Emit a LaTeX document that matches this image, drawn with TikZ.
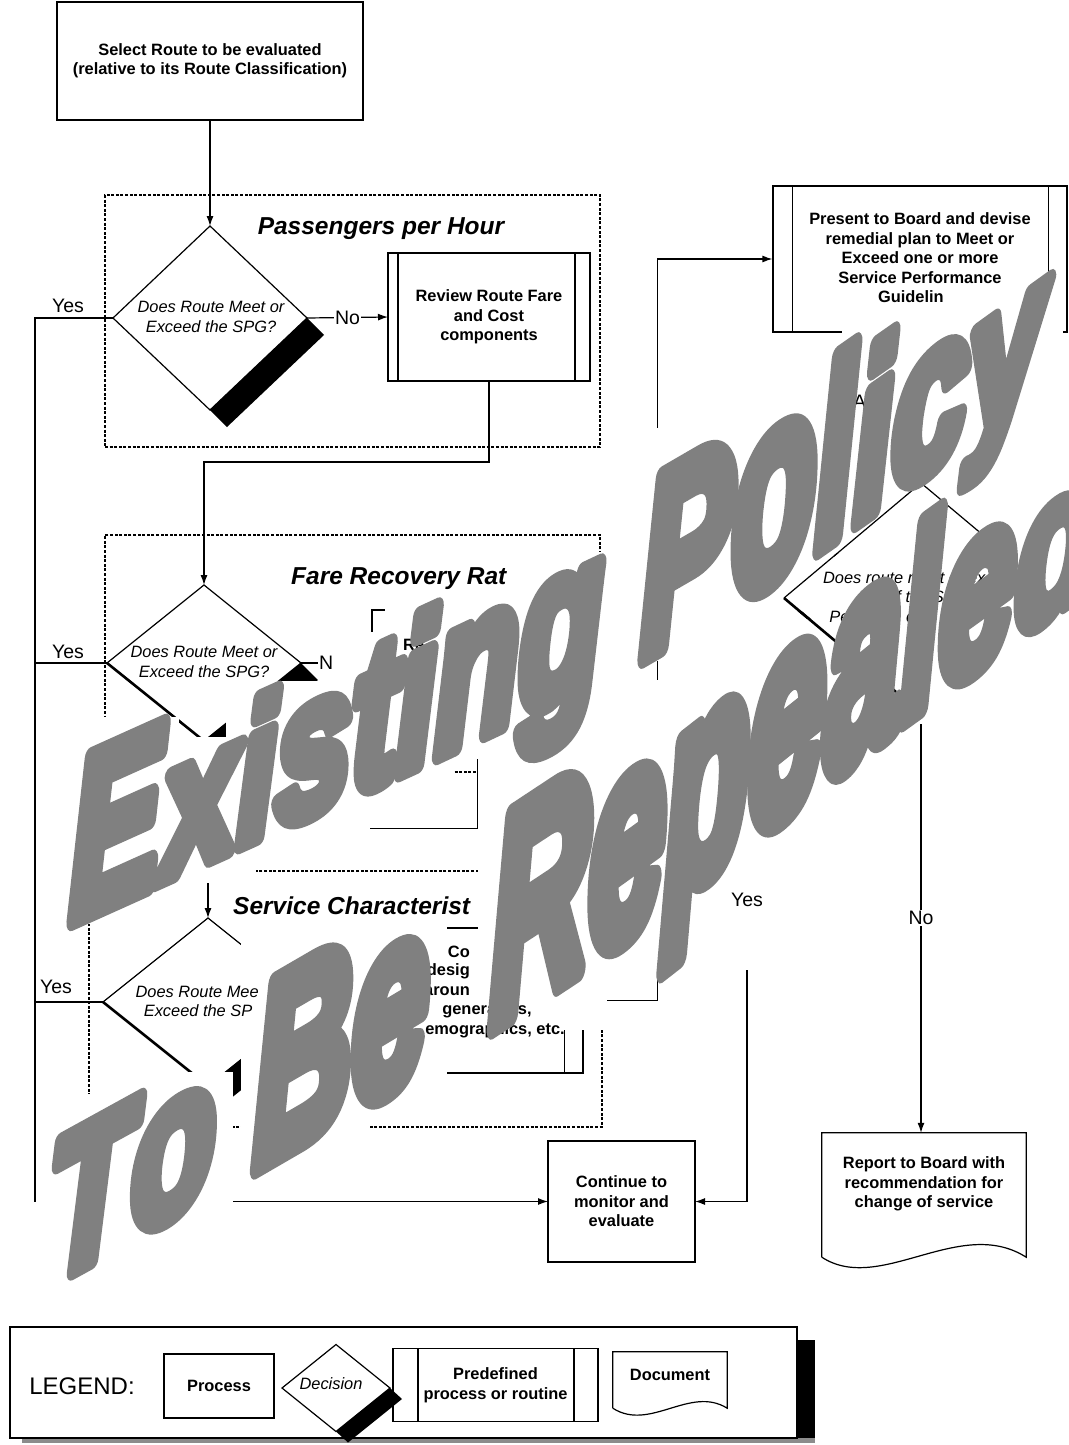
\documentclass[tikz,border=0pt]{standalone}
\usepackage{fontspec}
\setmainfont{Liberation Sans}
\usetikzlibrary{shapes.geometric,arrows.meta,calc}
\pgfdeclarelayer{wmpatch}
\pgfdeclarelayer{keep}
\pgfdeclarelayer{wmtext}
\pgfsetlayers{main,wmpatch,keep,wmtext}
\definecolor{wmgray}{HTML}{808080}
\newcommand\wmbold[1]{\special{pdf:code 2 Tr 0.502 0.502 0.502 RG 0.502 0.502 0.502 rg 12 w 1 j}#1\special{pdf:code 0 Tr}}
% name, at, char, yscale, yslant
\newcommand\wml[5]{%
  \begin{pgfonlayer}{wmtext}\node[wm,yslant=#5,yscale=#4] (#1) at (#2) {\wmbold{#3}};\end{pgfonlayer}%
  \begin{pgfonlayer}{wmpatch}\fill[white] ($(#1.south west)+(-12,2)$) rectangle ($(#1.north east)+(18,-8)$);\end{pgfonlayer}}
\newcommand\wmgap[4]{\begin{pgfonlayer}{wmtext}\node[wm,yslant=#3] (#1) at (#2) {\hspace*{#4em}};\end{pgfonlayer}}
\newcommand\keep[1]{\begin{pgfonlayer}{keep}#1\end{pgfonlayer}}
\begin{document}
\begin{tikzpicture}[x=1pt,y=-1pt,
  ln/.style={line width=1.2pt},
  arr/.style={line width=1.2pt,-{Latex[length=10pt,width=7pt]}},
  proc/.style={draw,line width=1.2pt,inner sep=0pt,outer sep=0pt,align=center,font=\bfseries\fontsize{16.4}{19.5}\selectfont},
  txt/.style={inner sep=0pt,align=center,font=\bfseries\fontsize{16.4}{19.5}\selectfont},
  itx/.style={inner sep=0pt,align=center,font=\itshape\fontsize{16.4}{19.2}\selectfont},
  dia/.style={draw,shape=diamond,line width=1.2pt,inner sep=0pt,outer sep=0pt},
  lbl/.style={inner sep=1pt,font=\fontsize{19.5}{22}\selectfont},
  ttl/.style={inner sep=0pt,font=\bfseries\itshape\fontsize{24.5}{28}\selectfont},
  dbox/.style={draw,line width=1.4pt,dash pattern=on 3pt off 1.6pt,inner sep=0pt},
  wm/.style={anchor=base west,inner sep=0pt,outer sep=0pt,text=wmgray,
     font=\bfseries\itshape\fontsize{137}{137}\selectfont,transform shape}]
\useasboundingbox (0,0) rectangle (1068,1445);
\fill[white] (0,0) rectangle (1068,1445);

% ---------- top process
\node[proc,minimum width=306,minimum height=118] (st) at (210,61) {Select Route to be evaluated\\(relative to its Route Classification)};

% ---------- group 1
\node[dbox,minimum width=495,minimum height=252] (g1) at (352.5,321) {};
\node[ttl] (t1) at (381,229) {Passengers per Hour};
\node[dia,minimum width=194,minimum height=184] (d1) at (210,318) {};
\fill (d1.east) -- ($(d1.east)+(17,17)$) -- ($(d1.south)+(17,17)$) -- (d1.south) -- cycle;
\node[itx] (d1t) at (211,317) {Does Route Meet or\\Exceed the SPG?};
\node[proc,minimum width=202,minimum height=128] (rv) at (489,317) {Review Route Fare\\and Cost\\components};
\draw[ln] ($(rv.north west)+(10,0)$) -- ($(rv.south west)+(10,0)$);
\draw[ln] ($(rv.north east)+(-15,0)$) -- ($(rv.south east)+(-15,0)$);
\node[lbl] (y1) at (68,306) {Yes};

% ---------- group 2
\node[dbox,minimum width=495,minimum height=237] (g2) at (352.5,653.5) {};
\keep{\node[ttl,anchor=west] (t2) at (291,579) {Fare Recovery Rat};}
\node[dia,minimum width=194,minimum height=156] (d2) at (204,663) {};
\fill (d2.east) -- ($(d2.east)+(17,17)$) -- ($(d2.south)+(17,17)$) -- (d2.south) -- cycle;
\draw[line width=2.6pt] (d2.west) -- (d2.south);
\keep{\node[itx] (d2t) at (204,662) {Does Route Meet or\\Exceed the SPG?};}
\keep{\node[lbl,anchor=west] (n2) at (318,663) {N};}
\node[draw,line width=1.2pt,inner sep=0pt,minimum width=211,minimum height=108] (p2) at (477.5,664) {};
\draw[ln] ($(p2.north west)+(17,0)$) -- ($(p2.south west)+(17,0)$);
\draw[ln] ($(p2.north east)+(-17,0)$) -- ($(p2.south east)+(-17,0)$);
\keep{\node[txt,anchor=west] (p2a) at (403,645) {Re};
\node[txt,anchor=west] (p2b) at (488,645) {rk};
\node[txt,anchor=west] (p2c) at (403,664) {tra};
\node[txt,anchor=west] (p2d) at (496,664) {a};
\node[txt,anchor=west] (p2e) at (495,684) {te};}
\node[lbl] (y2) at (68,652) {Yes};

% ---------- group 3
\node[dbox,minimum width=513,minimum height=256] (g3) at (345.5,999) {};
\keep{\node[ttl,anchor=west] (t3) at (233,906) {Service Characterist};}
\node[dia,minimum width=210,minimum height=168] (d3) at (208,1002) {};
\fill (d3.east) -- ($(d3.east)+(17,17)$) -- ($(d3.south)+(17,17)$) -- (d3.south) -- cycle;
\draw[line width=2.6pt] (d3.west) -- (d3.south);
\keep{\node[itx] (d3t) at (209,1001.5) {Does Route Mee\phantom{t or}\\Exceed the SP\phantom{G?}};}
\keep{\node[lbl,anchor=west] (n3) at (334,1002) {N};}
\node[draw,line width=1.2pt,inner sep=0pt,minimum width=200,minimum height=145] (p3) at (483,1000.5) {};
\draw[ln] ($(p3.north west)+(18,0)$) -- ($(p3.south west)+(18,0)$);
\draw[ln] ($(p3.north east)+(-19,0)$) -- ($(p3.south east)+(-19,0)$);
\keep{\node[txt,anchor=east] (p3a) at (470,952) {Co};
\node[txt,anchor=east] (p3b) at (470,971.5) {redesig};
\node[txt,anchor=east] (p3c) at (470,991) {aroun};
\node[txt] (p3d) at (487,1010.5) {generators,};
\node[txt] (p3e) at (490,1030) {\phantom{d}emographics, etc.};}
\keep{\node[lbl] (y3) at (56,987) {Yes};}

% ---------- right column
\node[draw,line width=1.2pt,inner sep=0pt,minimum width=294,minimum height=146] (pr) at (920,259) {};
\draw[ln] ($(pr.north west)+(20,0)$) -- ($(pr.south west)+(20,0)$);
\draw[ln] ($(pr.north east)+(-19,0)$) -- ($(pr.south east)+(-19,0)$);
\keep{\node[txt] (prt) at (920,258) {Present to Board and devise\\remedial plan to Meet or\\Exceed one or more\\Service Performance\\Guidelin\phantom{es}};}
\keep{\node[lbl,anchor=west] (at) at (852,402) {At};}
\node[dia,minimum width=274,minimum height=230] (d4) at (921,598) {};
\fill (d4.east) -- ($(d4.east)+(17,17)$) -- ($(d4.south)+(17,17)$) -- (d4.south) -- cycle;
\draw[line width=2.6pt] (d4.west) -- (d4.south);
\begin{pgfonlayer}{wmpatch}
  \fill[white] (1000,530) rectangle (1068,780);
  \fill[white] (926,688) rectangle (1000,750);
\end{pgfonlayer}
\keep{\draw[ln] (d4.west) -- (d4.north) -- ($(d4.north)!0.55!(d4.east)$);
  \draw[line width=2.6pt] (d4.west) -- ($(d4.west)!0.96!(d4.south)$);
  \draw[arr] ($(d4.north)+(0,-16)$) -- (d4.north);}
\keep{\node[itx] (d4t) at (922,597) {Does route meet or exce\phantom{ed}\\any of the Service\\Perform\phantom{an}c\phantom{e Guidelin}e\phantom{s?}};}

\node[proc,minimum width=147,minimum height=121] (co) at (621.5,1201.5) {Continue to\\monitor and\\evaluate};

\node[minimum width=204,minimum height=124,inner sep=0pt] (rp) at (924,1195) {};
\draw[ln] (rp.south west) -- (rp.north west) -- (rp.north east) -- (rp.south east)
   .. controls (960,1215) and (880,1295) .. (rp.south west);
\node[txt] (rpt) at (924,1184) {Report to Board with\\recommendation for\\change of service};

% ---------- connectors
\coordinate (yl) at (35,318);
\draw[arr] (st.south) -- (d1.north);
\draw[arr] (d1.east) -- node[lbl,fill=white] (no1) {No} (rv.west);
\draw[arr] (d1.west) -- (yl) |- (co.west);
\draw[arr] (rv.south) -- ++(0,81) -| (d2.north);
\draw[ln] (d2.west) -- (d2.west -| yl);
\draw[ln] (d2.east) -- (n2.west);
\draw[arr] (p2.south) -- ++(0,110) -| (d3.north);
\draw[ln] (d3.west) -- (d3.west -| yl);
\draw[ln] (d3.east) -- (n3.west);
\draw[arr] (p3.east) -- ++(74,0) |- (pr.west);
\draw[arr] (pr.south) -- (pr.south |- d4.north);
\draw[arr] (d4.west) -- ++(-37,0) coordinate (ybend) |- (co.east);
\keep{\node[lbl,fill=white] (yes4) at (747,900) {Yes};}
\draw[arr] (d4.south) -- (d4.south |- rp.north);
\keep{\node[lbl,fill=white] (no4) at (921,918) {No};}

% ---------- legend
\fill (797,1340) rectangle (815,1443);
\fill[black!45] (22,1438) rectangle (815,1443);
\node[draw,line width=1.2pt,fill=white,minimum width=787,minimum height=111,inner sep=0pt] (lg) at (403.5,1382.5) {};
\node[inner sep=0pt,font=\fontsize{24}{28}\selectfont] (lgt) at (82,1386) {LEGEND:};
\node[proc,minimum width=110,minimum height=64] (lp) at (219,1386) {Process};
\node[dia,fill=white,minimum width=108,minimum height=87] (ld) at (336,1388) {};
\fill (ld.east) -- ($(ld.east)+(12,11)$) -- ($(ld.south)+(12,11)$) -- (ld.south) -- cycle;
\node[itx] (ldt) at (331,1384) {Decision};
\node[proc,minimum width=205,minimum height=73] (lpp) at (495.5,1385) {Predefined\\process or routine};
\draw[ln] ($(lpp.north west)+(25,0)$) -- ($(lpp.south west)+(25,0)$);
\draw[ln] ($(lpp.north east)+(-24,0)$) -- ($(lpp.south east)+(-24,0)$);
\node[minimum width=114,minimum height=56,inner sep=0pt] (ldoc) at (670,1380) {};
\draw[ln] (ldoc.south west) -- (ldoc.north west) -- (ldoc.north east) -- (ldoc.south east)
   .. controls (690,1385) and (650,1432) .. (ldoc.south west);
\node[txt] (ldct) at (670,1375) {Document};

% ---------- watermark line 1
\coordinate (w1) at (70,922);
\wml{wE}{w1}{E}{1.65}{0.45}
\wml{wx}{wE.base east}{x}{1.40}{0.45}
\wml{wi}{wx.base east}{i}{1.40}{0.45}
\wml{ws}{wi.base east}{s}{1.45}{0.45}
\wml{wt}{ws.base east}{t}{1.50}{0.46}
\wml{wii}{wt.base east}{i}{1.50}{0.46}
\wml{wn}{wii.base east}{n}{1.55}{0.47}
\wml{wg}{wn.base east}{g}{1.60}{0.47}
\wmgap{wsa}{wg.base east}{0.50}{0.278}
\wml{wP}{wsa.base east}{P}{1.80}{0.58}
\wml{wo}{wP.base east}{o}{1.95}{0.66}
\wml{wl}{wo.base east}{l}{1.80}{0.70}
\wml{wiii}{wl.base east}{i}{1.65}{0.70}
\wml{wc}{wiii.base east}{c}{1.55}{0.72}
\wml{wy}{wc.base east}{y}{1.45}{0.72}
% ---------- watermark line 2
\coordinate (w2) at (48,1285);
\wml{vT}{w2}{T}{1.45}{0.55}
\wml{vo}{vT.base east}{o}{1.50}{0.58}
\wmgap{vsa}{vo.base east}{0.55}{0.278}
\wml{vB}{vsa.base east}{B}{1.85}{0.58}
\wml{ve}{vB.base east}{e}{1.85}{0.60}
\wmgap{vsb}{ve.base east}{0.62}{0.45}
\wml{vR}{vsb.base east}{R}{2.10}{0.66}
\wml{vee}{vR.base east}{e}{2.10}{0.72}
\wml{vp}{vee.base east}{p}{2.10}{0.78}
\wml{veee}{vp.base east}{e}{2.10}{0.80}
\wml{va}{veee.base east}{a}{2.05}{0.78}
\wml{vl}{va.base east}{l}{1.85}{0.72}
\wml{vf}{vl.base east}{e}{1.70}{0.72}
\wml{vd}{vf.base east}{d}{1.45}{0.72}
\end{tikzpicture}
\end{document}
